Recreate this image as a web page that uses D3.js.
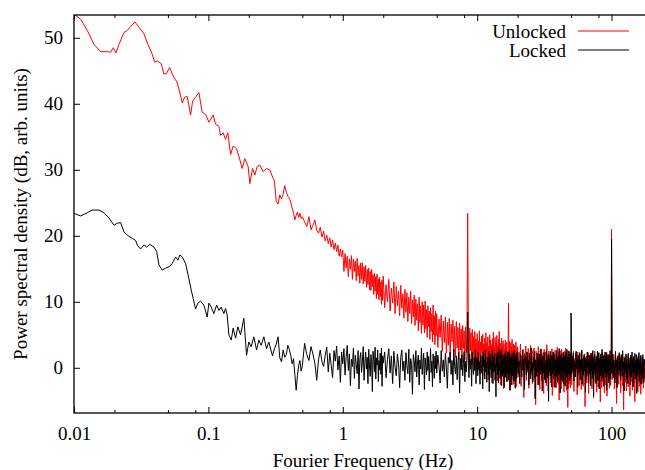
<!DOCTYPE html>
<html lang="en">
<head>
<meta charset="UTF-8">
<title>Power spectral density</title>
<script src="https://d3js.org/d3.v7.min.js"></script>
<style>
    body { margin: 0; background: #fff; }
    svg { display: block; }
    .axis path { display: none; }
    .axis line { stroke: #000; stroke-width: 1; }
    .trace { fill: none; stroke-width: 1; stroke-linejoin: round; }
</style>
</head>
<body>
<svg width="645" height="470"></svg>
<script>
// low-frequency part of each trace (Hz, dB)
const unlockedLowFreq = [0.0100,0.01121,0.01256,0.01408,0.01579,0.01768,0.01875,0.01960,0.02053,0.02161,0.02354,0.02490,0.02640,0.02841,0.03043,0.03314,0.03550,0.03821,0.03981,0.04163,0.04459,0.04669,0.04889,0.05147,0.05474,0.05861,0.06214,0.06387,0.06653,0.06957,0.07374,0.07629,0.08031,0.08500,0.08994,0.09532,0.1009,0.1086,0.1131,0.1197,0.1232,0.1288,0.1342,0.1396,0.1463,0.1529,0.1621,0.1715,0.1783,0.1868,0.1976,0.2035,0.2132,0.2217,0.2306,0.2415,0.2555,0.2708,0.2865];
const unlockedLow = [53.6,52.8,51.1,49.0,47.9,47.9,47.8,48.5,47.7,49.0,50.8,51.1,51.7,52.4,51.6,50.6,49.0,47.5,46.3,46.5,46.1,44.5,44.6,45.5,44.2,43.2,41.2,40.1,41.0,41.1,38.3,40.4,41.0,41.7,38.7,38.4,37.2,38.3,36.9,36.6,35.2,35.6,34.6,35.6,32.3,33.6,33.2,31.5,30.2,31.7,30.5,27.9,30.2,29.2,30.5,30.7,29.7,30.2,30.0];

const lockedLowFreq = [0.0100,0.01121,0.01256,0.01368,0.01534,0.01671,0.01820,0.01984,0.02099,0.02224,0.02354,0.02490,0.02714,0.02875,0.02955,0.03132,0.03314,0.03471,0.03673,0.03934,0.04122,0.04285,0.04535,0.04806,0.05086,0.05381,0.05702,0.05932,0.06141,0.06387,0.06767,0.07161,0.07449,0.07709,0.08031,0.08355,0.08750,0.09260,0.09797,0.1009,0.1049,0.1099,0.1151,0.1197,0.1245,0.1304,0.1342,0.1380,0.1421,0.1478,0.1529,0.1593,0.1657,0.1735,0.1836,0.1923,0.2000,0.2081,0.2179,0.2282,0.2374,0.2470,0.2586,0.2708,0.2817];
const lockedLow = [23.4,23.0,23.5,23.9,23.9,23.5,22.7,21.6,21.9,22.0,20.6,20.1,19.6,19.3,18.6,18.0,18.6,18.3,18.7,18.3,17.6,15.6,14.8,15.1,15.3,15.8,16.8,16.3,17.1,16.8,15.8,13.5,11.8,10.5,8.9,9.8,10.1,9.5,7.7,9.8,9.2,8.2,9.5,8.7,9.2,8.2,9.0,8.0,5.0,4.2,6.0,4.5,6.2,5.0,7.5,1.9,3.9,3.2,4.7,2.7,4.2,3.4,4.7,2.9,3.9];

// shared frequency bins for the noisy part (Hz)
const hiFreq = [
    0.30,0.31,0.32,0.33,0.34,0.35,0.36,0.37,0.38,0.39,0.40,0.41,0.42,0.43,0.44,0.45,0.46,0.47,0.48,0.49,0.50,
    0.52,0.54,0.56,0.58,0.60,0.62,0.64,0.66,0.68,0.70,0.72,0.74,0.76,0.78,0.80,0.82,0.84,0.86,0.88,0.90,0.92,0.94,0.96,0.98,
    1.00,1.02,1.04,1.06,1.08,1.10,1.12,1.14,1.16,1.18,
    1.20,1.22,1.24,1.26,1.28,1.30,1.32,1.34,1.36,1.38,
    1.40,1.42,1.44,1.46,1.48,1.50,1.52,1.54,1.56,1.58,
    1.60,1.62,1.64,1.66,1.68,1.70,1.72,1.74,1.76,1.78,
    1.80,1.82,1.84,1.86,1.88,1.90,1.92,1.94,1.96,1.98,
    2.00,2.05,2.10,2.15,2.20,2.25,2.30,2.35,2.40,2.45,
    2.50,2.55,2.60,2.65,2.70,2.75,2.80,2.85,2.90,2.95,
    3.00,3.05,3.10,3.15,3.20,3.25,3.30,3.35,3.40,3.45,
    3.50,3.55,3.60,3.65,3.70,3.75,3.80,3.85,3.90,3.95,
    4.00,4.05,4.10,4.15,4.20,4.25,4.30,4.35,4.40,4.45,
    4.50,4.55,4.60,4.65,4.70,4.75,4.80,4.85,4.90,4.95,
    5.0,5.1,5.2,5.3,5.4,5.5,5.6,5.7,5.8,5.9,
    6.0,6.1,6.2,6.3,6.4,6.5,6.6,6.7,6.8,6.9,
    7.0,7.1,7.2,7.3,7.4,7.5,7.6,7.7,7.8,7.9,
    8.0,8.1,8.2,8.3,8.4,8.5,8.6,8.7,8.8,8.9,
    9.0,9.1,9.2,9.3,9.4,9.5,9.6,9.7,9.8,9.9,
    10.0,10.1,10.2,10.3,10.4,10.5,10.6,10.7,10.8,10.9,
    11.0,11.1,11.2,11.3,11.4,11.5,11.6,11.7,11.8,11.9,
    12.0,12.1,12.2,12.3,12.4,12.5,12.6,12.7,12.8,12.9,
    13.0,13.1,13.2,13.3,13.4,13.5,13.6,13.7,13.8,13.9,
    14.0,14.1,14.2,14.3,14.4,14.5,14.6,14.7,14.8,14.9,
    15.0,15.1,15.2,15.3,15.4,15.5,15.6,15.7,15.8,15.9,
    16.0,16.1,16.2,16.3,16.4,16.5,16.6,16.7,16.8,16.9,
    17.0,17.1,17.2,17.3,17.4,17.5,17.6,17.7,17.8,17.9,
    18.0,18.1,18.2,18.3,18.4,18.5,18.6,18.7,18.8,18.9,
    19.0,19.1,19.2,19.3,19.4,19.5,19.6,19.7,19.8,19.9,
    20,20.25,20.5,20.75,21,21.25,21.5,21.75,22,22.25,
    22.5,22.75,23,23.25,23.5,23.75,24,24.25,24.5,24.75,
    25,25.25,25.5,25.75,26,26.25,26.5,26.75,27,27.25,
    27.5,27.75,28,28.25,28.5,28.75,29,29.25,29.5,29.75,
    30,30.25,30.5,30.75,31,31.25,31.5,31.75,32,32.25,
    32.5,32.75,33,33.25,33.5,33.75,34,34.25,34.5,34.75,
    35,35.25,35.5,35.75,36,36.25,36.5,36.75,37,37.25,
    37.5,37.75,38,38.25,38.5,38.75,39,39.25,39.5,39.75,
    40,40.25,40.5,40.75,41,41.25,41.5,41.75,42,42.25,
    42.5,42.75,43,43.25,43.5,43.75,44,44.25,44.5,44.75,
    45,45.25,45.5,45.75,46,46.25,46.5,46.75,47,47.25,
    47.5,47.75,48,48.25,48.5,48.75,49,49.25,49.5,49.75,
    50,50.5,51,51.5,52,52.5,53,53.5,54,54.5,
    55,55.5,56,56.5,57,57.5,58,58.5,59,59.5,
    60,60.5,61,61.5,62,62.5,63,63.5,64,64.5,
    65,65.5,66,66.5,67,67.5,68,68.5,69,69.5,
    70,70.5,71,71.5,72,72.5,73,73.5,74,74.5,
    75,75.5,76,76.5,77,77.5,78,78.5,79,79.5,
    80,80.5,81,81.5,82,82.5,83,83.5,84,84.5,
    85,85.5,86,86.5,87,87.5,88,88.5,89,89.5,
    90,90.5,91,91.5,92,92.5,93,93.5,94,94.5,
    95,95.5,96,96.5,97,97.5,98,98.5,99,99.5,
    100,101,102,103,104,105,106,107,108,109,
    110,111,112,113,114,115,116,117,118,119,
    120,121,122,123,124,125,126,127,128,129,
    130,131,132,133,134,135,136,137,138,139,
    140,141,142,143,144,145,146,147,148,149,
    150,151,152,153,154,155,156,157,158,159,
    160,161,162,163,164,165,166,167,168,169,
    170,171,172,173,174,175,176
];

const unlockedHi = [
    28.9,28.3,25.2,24.8,26.2,25.6,26.3,27.6,26.6,26.0,25.7,25.1,24.2,23.4,22.4,23.1,23.6,22.8,23.4,22.6,22.9,
    22.1,21.4,22.9,20.9,21.6,22.4,20.8,20.4,21.3,19.8,20.7,19.2,20.1,18.8,19.7,18.3,19.4,17.9,18.9,17.6,18.6,16.9,18.0,16.8,
    17.8,14.6,17.3,15.1,16.9,13.8,16.5,14.9,17.0,13.4,
    16.5,14.6,16.2,13.2,16.6,13.9,15.5,12.8,15.9,13.4,
    15.9,12.7,15.3,13.1,15.5,12.2,14.9,12.6,15.1,11.8,
    14.6,11.7,14.9,12.3,14.1,11.1,14.3,11.6,13.8,10.5,
    14.2,11.1,13.4,10.3,13.7,10.8,13.0,9.6,13.3,10.2,
    13.9,9.1,12.6,10.0,13.4,8.6,12.1,9.8,13.0,8.2,
    12.3,9.4,11.6,7.9,12.5,9.0,11.2,7.5,11.9,8.4,
    11.4,7.0,10.7,8.2,11.6,6.7,10.3,7.7,11.0,6.4,
    10.4,7.2,9.7,5.6,10.7,6.8,9.4,5.2,10.0,6.5,
    9.5,5.3,10.1,5.9,8.8,4.6,9.4,6.2,8.6,4.3,
    9.1,5.5,8.2,3.9,9.5,5.0,7.9,3.5,8.6,4.8,
    8.2,3.1,7.4,4.6,8.0,2.5,7.1,3.8,7.7,2.2,
    6.9,3.4,7.5,1.9,6.6,4.0,7.2,2.4,6.3,1.6,
    7.0,3.0,6.1,1.3,6.8,2.7,5.9,0.9,6.4,2.9,
    5.6,1.2,6.2,2.3,5.5,23.4,4.9,0.8,6.0,2.6,
    5.3,0.5,5.8,1.8,4.7,0.2,5.5,2.1,4.4,0.6,
    5.2,0.4,4.1,1.8,5.6,-0.9,3.9,2.2,4.8,0.1,
    5.1,1.3,3.6,-1.2,4.5,0.9,5.3,-0.4,3.8,1.6,
    4.7,-1.8,3.3,0.6,5.0,-0.2,4.2,1.1,3.5,-2.3,
    4.4,0.3,5.4,-0.7,3.1,1.5,4.6,-1.4,3.9,0.0,
    4.9,-2.0,3.4,0.8,4.3,-0.5,5.5,1.2,2.9,-2.6,
    3.7,0.2,4.5,-1.0,3.2,0.9,4.1,-3.2,3.6,0.4,
    2.8,-1.5,4.2,0.1,3.3,-0.8,3.9,1.0,2.6,-2.1,
    3.5,9.8,3.0,-0.6,4.0,0.5,2.7,-3.4,3.8,-0.2,
    3.1,-1.7,4.3,0.3,2.5,-0.9,3.6,-2.5,2.9,0.7,
    3.4,-1.2,2.6,-0.1,3.9,-2.9,2.4,0.2,3.2,-0.8,
    3.1,-1.4,2.4,0.2,3.6,-2.8,1.9,-0.3,2.8,-4.5,
    2.2,0.5,3.3,-1.9,1.6,-0.7,2.9,-3.1,2.0,0.6,
    3.4,-1.1,1.4,-2.4,2.6,-0.2,3.0,-1.6,1.2,-5.6,
    2.5,-0.5,1.8,-2.6,3.2,0.1,1.5,-3.3,2.7,-0.9,
    2.9,-2.0,1.9,-0.4,2.3,-3.9,2.8,-0.7,1.3,-1.8,
    2.4,-2.7,3.5,-0.2,1.1,-3.5,2.5,-1.2,1.8,-0.5,
    2.1,-2.3,1.4,-0.8,2.9,-4.2,1.7,-0.1,2.4,-2.9,
    1.6,-1.3,2.7,-0.6,1.0,-3.0,2.2,-1.9,3.1,-0.3,
    1.5,-2.5,2.3,-4.9,1.8,-0.9,2.6,-1.6,0.9,-3.2,
    2.8,-0.4,1.2,-2.2,2.1,-1.0,1.6,-3.7,2.5,-0.7,
    1.9,-2.8,3.0,-0.5,1.3,-3.4,2.2,-1.4,1.5,-6.0,
    2.6,-0.9,1.7,-2.4,2.0,-0.3,1.1,-3.0,2.3,-1.2,
    1.9,-2.6,1.2,-0.7,2.5,-3.6,1.4,-1.3,2.2,-0.4,
    1.6,-4.1,2.4,-1.0,0.8,-2.7,2.0,-0.6,1.1,-3.3,
    2.6,-1.9,0.5,-2.8,1.7,-0.3,2.1,-5.9,1.0,-1.6,
    1.8,-2.3,1.3,-0.8,2.3,-3.9,0.7,-1.1,1.9,-2.5,
    2.2,-0.6,0.9,-3.2,2.0,-1.4,0.3,-4.6,1.6,-0.9,
    2.5,-2.1,1.0,-0.4,1.7,-3.7,1.3,-1.8,0.6,-2.9,
    2.1,-0.7,1.4,-2.4,0.8,-5.2,1.9,-1.2,1.1,-3.0,
    2.3,-1.5,0.4,-2.2,1.6,-0.5,2.0,-3.8,0.9,-1.7,
    1.8,-2.6,1.2,-0.9,2.4,-4.3,0.6,-1.4,1.5,-2.0,
    2.0,-0.8,1.0,-3.1,1.7,-1.9,0.5,-2.7,1.3,-0.6,
    21.0,-1.8,1.3,-0.6,2.0,-3.2,0.8,-1.7,1.5,-5.4,
    1.1,-0.9,1.9,-2.5,0.4,-1.3,1.6,-3.8,0.9,-0.5,
    1.4,-2.7,0.6,-6.4,1.7,-1.1,0.3,-2.2,1.2,-3.5,
    1.8,-0.7,0.5,-2.9,1.3,-1.6,0.7,-4.3,1.0,-1.2,
    1.6,-2.1,0.2,-3.4,1.4,-0.8,0.9,-2.6,0.4,-5.1,
    1.2,-1.4,0.8,-2.3,1.5,-0.6,0.1,-3.6,1.0,-1.9,
    1.3,-2.8,0.6,-1.0,1.7,-4.0,0.3,-1.5,0.9,-2.4,
    1.1,-0.9,0.4,-3.1,1.2,-1.7,0.5
];

const lockedHi = [
    1.8,2.9,3.6,4.7,1.5,0.9,2.7,1.6,2.0,3.4,2.8,1.9,0.6,1.4,-1.0,-3.4,-1.2,0.4,1.1,-0.5,0.3,
    3.7,2.0,1.1,3.2,2.1,0.7,-1.9,1.2,2.7,0.9,0.2,1.9,3.1,-0.6,2.2,0.4,-1.5,2.6,1.0,3.3,-0.3,1.8,-2.2,2.4,
    0.6,2.9,-1.1,1.7,3.4,-0.4,2.1,-2.7,1.3,0.2,
    3.0,-1.6,1.9,0.5,-0.9,2.6,-3.2,1.4,2.3,-0.7,
    1.0,3.2,-1.9,0.8,2.4,-0.2,1.6,-2.4,2.8,0.3,
    -1.3,2.0,0.9,-3.6,2.5,1.2,-0.6,3.1,-1.7,1.5,
    0.4,2.7,-2.1,1.1,-0.3,2.2,-1.0,3.0,-2.8,1.8,
    0.7,2.4,-1.5,1.3,2.9,-0.8,1.8,-2.4,2.5,0.1,
    -1.2,2.1,0.6,-3.0,1.6,2.7,-0.5,1.0,-1.9,2.3,
    0.3,-0.9,2.8,-2.2,1.4,0.5,-4.0,2.0,1.1,-0.6,
    2.6,-1.4,0.9,1.9,-2.6,1.2,-0.2,3.0,-1.0,0.8,
    2.2,-3.3,1.5,0.2,-1.1,2.4,-0.4,1.7,-2.0,0.6,
    2.9,-0.7,1.0,-2.9,2.1,0.4,-1.6,1.8,-0.1,2.5,
    -0.8,1.9,0.3,-2.3,2.6,-0.5,1.2,-1.4,2.2,0.0,
    -3.1,1.6,0.7,2.4,-1.0,1.1,-2.6,2.8,0.2,-0.9,
    1.8,-1.8,0.9,2.3,-3.8,1.4,-0.3,2.0,-1.2,0.6,
    2.5,-2.1,1.0,-0.6,1.7,8.4,0.4,-1.5,2.1,-0.2,
    1.3,-2.8,2.4,0.1,-1.0,1.6,-0.4,2.7,-2.4,0.8,
    1.5,-1.2,2.3,-0.3,0.9,-2.5,2.0,0.4,-0.8,1.8,
    -3.2,2.4,0.1,1.2,-1.7,2.7,-0.6,0.8,-2.2,1.6,
    0.3,-1.0,2.5,-3.6,1.4,-0.1,2.1,-1.5,1.0,-0.7,
    2.8,-2.4,0.7,1.7,-0.5,2.2,-1.9,0.5,-4.4,1.6,
    0.2,2.3,-1.1,1.3,-2.3,2.9,-0.4,0.6,-1.6,1.9,
    -0.2,2.6,-2.7,1.1,0.4,-1.3,2.0,-0.8,1.5,-3.0,
    2.2,0.0,-1.4,2.5,-0.6,1.0,-2.1,1.8,0.3,-0.9,
    2.4,-1.8,1.2,-0.3,2.7,-3.4,0.9,1.6,-1.0,0.5,
    2.1,-2.6,1.4,0.2,-1.2,2.3,-0.5,1.1,-2.0,2.6,
    -0.1,1.3,-3.1,1.9,0.6,-0.8,2.2,-1.6,0.9,0.1,
    2.3,-0.9,1.0,-2.4,2.1,0.3,-1.4,2.7,-0.4,1.3,
    -3.3,1.8,0.5,-1.1,2.4,-0.3,1.1,-2.6,2.2,0.5,
    -1.7,3.0,-0.5,0.8,-2.1,1.6,0.1,2.5,-4.7,1.2,
    0.4,-1.3,2.2,-0.7,1.4,-2.6,2.1,0.2,-1.0,2.8,
    -0.4,1.1,-3.5,1.7,0.0,-0.8,2.3,-1.8,0.9,0.7,
    -2.3,2.6,-0.2,1.3,-1.5,2.0,-5.1,1.5,0.3,-0.6,
    2.5,-1.2,0.8,-2.9,1.9,0.4,-0.9,2.4,-1.6,1.0,
    -0.2,2.1,-3.0,1.2,0.6,-1.3,2.6,-0.5,1.4,-2.2,
    1.7,0.2,-1.1,2.9,-0.8,1.0,-3.8,1.9,0.4,-0.5,
    2.2,-1.9,0.7,1.5,-0.3,2.4,-2.5,1.1,-0.9,1.8,
    0.1,-2.7,2.3,-0.6,1.2,-1.4,2.8,-0.2,0.8,-3.2,
    1.6,0.5,-1.0,2.5,-0.7,1.3,-2.0,2.0,0.2,-1.5,
    8.3,-0.9,1.8,-0.3,2.2,-2.0,1.0,0.4,-1.4,2.5,
    -0.1,1.2,-2.9,1.9,0.6,-0.7,2.3,-1.8,1.1,-0.2,
    2.7,-2.5,1.4,0.2,-1.1,2.0,-0.5,1.6,-3.7,1.3,
    0.5,-1.3,2.4,0.0,0.8,-2.2,1.9,0.3,-0.9,1.7,
    -2.7,2.2,-0.4,1.2,-1.6,2.6,0.1,-4.3,1.5,-0.1,
    2.0,-1.0,0.9,-2.4,1.7,0.4,-0.6,2.5,-1.9,1.0,
    -0.3,2.3,-3.2,1.4,0.2,-1.2,2.1,-0.7,1.2,-2.0,
    2.8,-0.2,0.6,-1.5,1.8,-2.8,1.3,0.5,-0.8,2.4,
    -1.4,1.1,-0.5,2.2,-3.4,1.6,0.0,-1.0,2.0,-0.6,
    1.5,-2.3,0.8,1.9,-0.4,2.6,-1.7,0.7,-0.9,1.4,
    19.5,-0.8,2.1,-1.5,1.2,0.3,-2.3,2.5,-0.2,1.1,
    -3.0,1.7,0.5,-1.0,2.3,-0.5,1.3,-1.9,2.0,0.2,
    -1.3,2.6,-0.1,0.9,-3.5,1.5,0.4,-0.7,2.1,-1.8,
    1.2,0.6,-2.4,2.2,-0.3,1.5,-1.1,0.8,-2.6,1.9,
    0.1,-1.4,2.4,-0.6,1.0,-2.9,1.7,0.3,-0.8,2.2,
    -1.7,0.9,-0.2,2.0,-3.9,1.4,0.5,-1.2,1.8,-0.4,
    2.3,-2.1,0.7,1.1,-0.9,1.9,-2.5,0.6,-0.3,1.6,
    -1.6,2.0,-0.5,0.8,-2.2,1.3,0.2
];

const xMajor = [0.01, 0.1, 1, 10, 100];
const xMinor = [0.02, 0.05, 0.08, 0.2, 0.5, 0.8, 2, 5, 8, 20, 50, 80];
const yTicks = [0, 10, 20, 30, 40, 50];
const seriesNames = ["Unlocked", "Locked"];
const seriesColors = ["#ff0000", "#000000"];

const serif = "'Liberation Serif', 'DejaVu Serif', serif";
const margin = {left: 74, right: 652, top: 15, bottom: 413};

const svg = d3.select("svg").attr("font-family", serif);

const x = d3.scaleLog().domain([0.01, 200]).range([margin.left, margin.right]);
const y = d3.scaleLinear().domain([-6.85, 53.45]).range([margin.bottom, margin.top]);

svg.append("defs").append("clipPath").attr("id", "plot")
    .append("rect")
    .attr("x", margin.left).attr("y", margin.top)
    .attr("width", margin.right - margin.left).attr("height", margin.bottom - margin.top);

// traces: red first, black drawn over it
const unlocked = d3.zip(unlockedLowFreq, unlockedLow).concat(d3.zip(hiFreq, unlockedHi));
const locked = d3.zip(lockedLowFreq, lockedLow).concat(d3.zip(hiFreq, lockedHi));

const line = d3.line().x(d => x(d[0])).y(d => y(d[1]));

const plot = svg.append("g").attr("clip-path", "url(#plot)");
[unlocked, locked].forEach((data, i) => {
    plot.append("path")
        .attr("class", "trace")
        .attr("stroke", seriesColors[i])
        .attr("d", line(data));
});

// axes with inward ticks
svg.append("g").attr("class", "axis")
    .attr("transform", `translate(0,${margin.bottom})`)
    .call(d3.axisBottom(x).tickValues(xMajor).tickSizeInner(-6).tickSizeOuter(0)
        .tickPadding(13.5).tickFormat(d => d3.format("~g")(d)));
svg.append("g").attr("class", "axis")
    .attr("transform", `translate(0,${margin.bottom})`)
    .call(d3.axisBottom(x).tickValues(xMinor).tickSizeInner(-3).tickSizeOuter(0).tickFormat(""));
svg.append("g").attr("class", "axis")
    .attr("transform", `translate(0,${margin.top})`)
    .call(d3.axisTop(x).tickValues(xMajor).tickSizeInner(-6).tickSizeOuter(0).tickFormat(""));
svg.append("g").attr("class", "axis")
    .attr("transform", `translate(0,${margin.top})`)
    .call(d3.axisTop(x).tickValues(xMinor).tickSizeInner(-3).tickSizeOuter(0).tickFormat(""));
svg.append("g").attr("class", "axis")
    .attr("transform", `translate(${margin.left},0)`)
    .call(d3.axisLeft(y).tickValues(yTicks).tickSizeInner(-6).tickSizeOuter(0).tickPadding(11));
svg.selectAll(".axis").attr("font-size", 19).attr("font-family", serif);
svg.selectAll(".axis text").attr("fill", "#000");

// frame
svg.append("rect")
    .attr("x", margin.left).attr("y", margin.top)
    .attr("width", margin.right - margin.left).attr("height", margin.bottom - margin.top)
    .attr("fill", "none").attr("stroke", "#000").attr("stroke-width", 1.3);

// axis titles
svg.append("text")
    .attr("x", 363).attr("y", 467)
    .attr("font-size", 19).attr("font-family", serif)
    .attr("text-anchor", "middle")
    .text("Fourier Frequency (Hz)");
svg.append("text")
    .attr("transform", `translate(27,${(margin.top + margin.bottom) / 2}) rotate(-90)`)
    .attr("font-size", 19).attr("font-family", serif)
    .attr("text-anchor", "middle")
    .text("Power spectral density (dB, arb. units)");

// legend
seriesNames.forEach((name, i) => {
    const ly = 31 + i * 19;
    svg.append("text")
        .attr("x", 566).attr("y", ly + 7)
        .attr("font-size", 19).attr("font-family", serif)
        .attr("text-anchor", "end")
        .text(name);
    svg.append("line")
        .attr("x1", 578).attr("x2", 629)
        .attr("y1", ly).attr("y2", ly)
        .attr("stroke", seriesColors[i]).attr("stroke-width", 1);
});
</script>
</body>
</html>
